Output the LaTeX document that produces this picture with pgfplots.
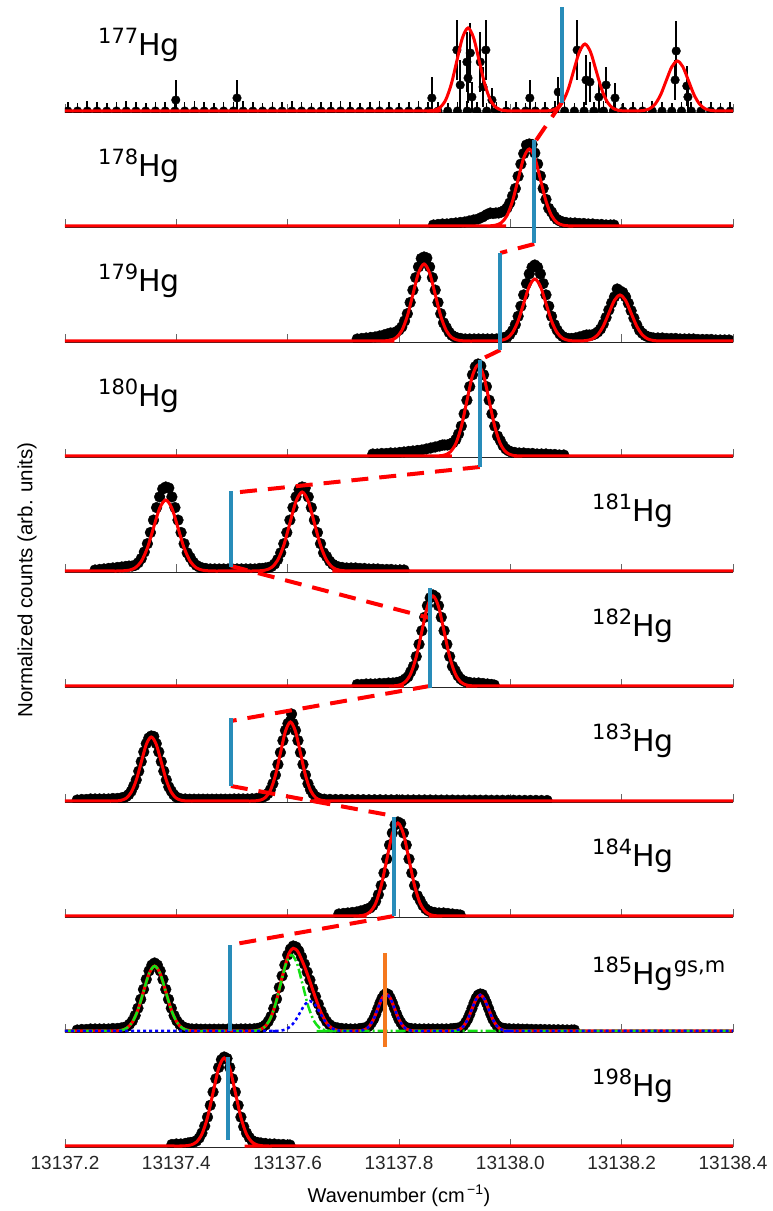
\documentclass[border=0pt]{standalone}
\usepackage{pgfplots}
\pgfplotsset{compat=1.18}
\usepackage{fontspec}
\setmainfont{Liberation Sans}
\newfontfamily\labelfont{DejaVu Sans}

\definecolor{centroid}{RGB}{40,140,185}
\definecolor{isomer}{RGB}{245,120,30}
\definecolor{gsgreen}{RGB}{20,225,20}
\definecolor{isoblue}{RGB}{0,0,255}

% Horizontal coordinate of every plot: wavenumber minus 13137 cm^-1
\pgfplotsset{
  panel/.style={
    anchor=south west, scale only axis,
    width=668pt, height=115pt,
    xmin=0.2, xmax=1.4, ymin=-0.015, ymax=1.135,
    axis x line*=bottom, axis y line=none, ytick=\empty,
    x axis line style={-, line width=1.2pt, black!85},
    xtick={0.2,0.4,0.6,0.8,1.0,1.2,1.4},
    xticklabels={},
    tick align=inside, major tick length=8pt,
    xtick style={line width=0.9pt, black!60},
    clip=true, clip marker paths=true,
  },
  dots/.style={only marks, mark=*, mark size=5.4pt, black},
  fitline/.style={red, line width=3pt, smooth, mark=none},
  link/.style={red, line width=4pt, dash pattern=on 17pt off 11pt},
  cline/.style={centroid, line width=4pt},
}

\newcommand{\nuc}[2]{{\labelfont\fontsize{21}{21}\selectfont\raisebox{12pt}{#1}}{\labelfont\fontsize{30}{30}\selectfont Hg}#2}

\begin{document}
\begin{tikzpicture}

% ---------------- 177Hg ----------------
\begin{axis}[panel, at={(0pt,1033.5pt)}]
\addplot[only marks, mark=*, mark size=4.3pt, black,
  error bars/.cd, y dir=both, y explicit, error mark=none,
  error bar style={line width=1.6pt, black}]
  table[x=x, y=y, y error=e] {
x y e
0.205 0 0.09
0.2225 0 0.08
0.240 0 0.10
0.2575 0 0.09
0.275 0 0.08
0.2925 0 0.09
0.310 0 0.10
0.3275 0 0.09
0.345 0 0.08
0.3625 0 0.09
0.380 0 0.09
0.3975 0 0.08
0.415 0 0.09
0.4325 0 0.10
0.450 0 0.09
0.4675 0 0.08
0.485 0 0.09
0.5025 0 0.09
0.520 0 0.10
0.5375 0 0.09
0.555 0 0.08
0.5725 0 0.09
0.590 0 0.09
0.6075 0 0.10
0.625 0 0.09
0.6425 0 0.08
0.660 0 0.09
0.6775 0 0.09
0.695 0 0.10
0.7125 0 0.09
0.730 0 0.08
0.7475 0 0.09
0.765 0 0.10
0.7825 0 0.09
0.800 0 0.08
0.8175 0 0.09
0.835 0 0.10
0.8525 0 0.09
0.870 0 0.09
0.8875 0 0.08
0.905 0 0.09
0.9225 0 0.10
0.940 0 0.09
0.9575 0 0.08
0.975 0 0.09
0.9925 0 0.10
1.010 0 0.09
1.0275 0 0.08
1.045 0 0.09
1.0625 0 0.09
1.080 0 0.10
1.0975 0 0.09
1.115 0 0.08
1.1325 0 0.09
1.150 0 0.09
1.1675 0 0.10
1.185 0 0.09
1.2025 0 0.08
1.220 0 0.09
1.2375 0 0.09
1.255 0 0.10
1.2725 0 0.09
1.290 0 0.08
1.3075 0 0.09
1.325 0 0.09
1.3425 0 0.10
1.360 0 0.09
1.3775 0 0.08
1.395 0 0.09
0.399 0.11 0.20
0.509 0.13 0.18
0.859 0.13 0.21
0.904 0.61 0.30
0.910 0.26 0.25
0.922 0.49 0.30
0.924 0.33 0.25
0.928 0.58 0.30
0.931 0.14 0.15
0.946 0.49 0.30
0.951 0.24 0.20
0.956 0.61 0.30
0.967 0.11 0.12
1.035 0.13 0.18
1.086 0.19 0.15
1.120 0.61 0.30
1.136 0.31 0.25
1.143 0.29 0.20
1.159 0.14 0.15
1.172 0.26 0.18
1.188 0.13 0.15
1.296 0.31 0.20
1.298 0.60 0.30
1.317 0.25 0.20
1.319 0.14 0.15
};
\addplot[fitline] coordinates {(0.2,0) (0.834,0) (0.844,0) (0.854,.002) (0.864,.009) (0.874,.036) (0.884,.112) (0.894,.270) (0.904,.503) (0.914,.732) (0.924,.830) (0.934,.732) (0.944,.503) (0.954,.270) (0.964,.112) (0.974,.036) (0.984,.009) (0.994,.002) (1.004,0) (1.014,0) (1.044,0) (1.054,0) (1.064,.001) (1.074,.007) (1.084,.029) (1.094,.091) (1.104,.218) (1.114,.406) (1.124,.591) (1.134,.670) (1.144,.591) (1.154,.406) (1.164,.218) (1.174,.091) (1.184,.029) (1.194,.007) (1.204,.001) (1.214,0) (1.222,0) (1.230,.001) (1.240,.006) (1.250,.022) (1.260,.068) (1.270,.162) (1.280,.303) (1.290,.441) (1.300,.500) (1.310,.441) (1.320,.303) (1.330,.162) (1.340,.068) (1.350,.022) (1.360,.006) (1.370,.001) (1.380,0) (1.390,0) (1.4,0)};
\end{axis}

% ---------------- 178Hg ----------------
\begin{axis}[panel, at={(0pt,918.5pt)}]
\addplot[dots] coordinates {(0.862,.010) (0.870,.015) (0.878,.020) (0.886,.020) (0.894,.025) (0.902,.030) (0.910,.035) (0.918,.040) (0.926,.050) (0.934,.060) (0.942,.070) (0.950,.090) (0.958,.115) (0.964,.130) (0.969,.125)
(0.974,.13) (0.979,.13) (0.984,.14) (0.989,.155) (0.994,.18) (0.999,.23) (1.004,.30) (1.009,.375) (1.014,.497) (1.019,.619) (1.024,.724) (1.029,.81) (1.034,.82) (1.039,.815) (1.044,.73) (1.049,.62) (1.054,.50) (1.059,.375) (1.064,.266) (1.069,.177) (1.074,.14) (1.079,.095) (1.084,.066) (1.089,.05) (1.094,.04) (1.100,.035) (1.108,.03) (1.116,.03) (1.124,.025) (1.132,.025) (1.140,.02) (1.148,.02) (1.156,.015) (1.164,.015) (1.172,.01) (1.180,.01) (1.186,.01)};
\addplot[fitline] coordinates {(0.2,0) (0.944,0) (0.954,0) (0.964,.002) (0.974,.009) (0.984,.034) (0.994,.104) (1.004,.250) (1.014,.467) (1.024,.680) (1.034,.770) (1.044,.680) (1.054,.467) (1.064,.250) (1.074,.104) (1.084,.034) (1.094,.009) (1.104,.002) (1.114,0) (1.124,0) (1.4,0)};
\end{axis}

% ---------------- 179Hg ----------------
\begin{axis}[panel, at={(0pt,803.5pt)}]
\addplot[dots] coordinates {(0.725,.020) (0.733,.025) (0.741,.030) (0.749,.035) (0.757,.040) (0.765,.050) (0.773,.060) (0.779,.070)
(0.785,.08) (0.790,.08) (0.795,.09) (0.800,.11) (0.805,.14) (0.810,.20) (0.815,.273) (0.820,.385) (0.825,.509) (0.830,.634) (0.835,.741) (0.840,.825) (0.845,.84) (0.850,.83) (0.855,.741) (0.860,.634) (0.865,.509) (0.870,.385) (0.875,.273) (0.880,.182) (0.885,.134) (0.890,.087) (0.895,.057) (0.900,.04) (0.905,.03)
(0.911,.025) (0.919,.02) (0.927,.02) (0.935,.02) (0.943,.02) (0.951,.02) (0.959,.02) (0.967,.02) (0.975,.02) (0.981,.025)
(0.984,.03) (0.989,.035) (0.994,.04) (0.999,.065) (1.004,.103) (1.009,.164) (1.014,.247) (1.019,.348) (1.024,.461) (1.029,.574) (1.034,.671) (1.039,.737) (1.044,.76) (1.049,.737) (1.054,.671) (1.059,.574) (1.064,.461) (1.069,.348) (1.074,.247) (1.079,.164) (1.084,.11) (1.089,.07) (1.094,.045) (1.099,.03) (1.104,.025)
(1.110,.025) (1.117,.03) (1.124,.04) (1.131,.05)
(1.137,.06) (1.142,.06) (1.147,.06) (1.152,.07) (1.157,.09) (1.162,.12) (1.167,.17) (1.172,.235) (1.177,.31) (1.182,.38) (1.187,.441) (1.192,.52) (1.197,.50) (1.202,.485) (1.207,.441) (1.212,.377) (1.217,.303) (1.222,.229) (1.227,.162) (1.232,.108) (1.237,.078) (1.242,.055) (1.247,.042) (1.252,.035) (1.257,.03)
(1.265,.03) (1.273,.03) (1.281,.025) (1.289,.025) (1.297,.025) (1.305,.02) (1.313,.02) (1.321,.02) (1.329,.02) (1.337,.015) (1.345,.015) (1.353,.015) (1.361,.015) (1.369,.01) (1.377,.01) (1.385,.01) (1.393,.01)};
\addplot[fitline] coordinates {(0.2,0) (0.755,0) (0.765,0) (0.775,.002) (0.785,.009) (0.795,.034) (0.805,.104) (0.815,.250) (0.825,.467) (0.835,.680) (0.845,.770) (0.855,.680) (0.865,.467) (0.875,.250) (0.885,.104) (0.895,.034) (0.905,.009) (0.915,.002) (0.925,0) (0.935,0) (0.954,0) (0.964,0) (0.974,.001) (0.984,.007) (0.994,.027) (1.004,.084) (1.014,.201) (1.024,.376) (1.034,.547) (1.044,.620) (1.054,.547) (1.064,.376) (1.074,.201) (1.084,.084) (1.094,.027) (1.104,.007) (1.114,.001) (1.1205,0) (1.127,.001) (1.137,.005) (1.147,.020) (1.157,.062) (1.167,.149) (1.177,.279) (1.187,.406) (1.197,.460) (1.207,.406) (1.217,.279) (1.227,.149) (1.237,.062) (1.247,.020) (1.257,.005) (1.267,.001) (1.277,0) (1.287,0) (1.4,0)};
\end{axis}

% ---------------- 180Hg ----------------
\begin{axis}[panel, at={(0pt,688.5pt)}]
\addplot[dots] coordinates {(0.753,.02) (0.761,.02) (0.769,.025) (0.777,.025) (0.785,.03) (0.793,.03) (0.801,.035) (0.809,.04) (0.817,.045) (0.825,.05) (0.833,.055) (0.841,.06) (0.849,.07) (0.857,.08) (0.865,.09) (0.873,.10) (0.878,.11)
(0.882,.11) (0.887,.11) (0.892,.12) (0.897,.133) (0.902,.164) (0.907,.22) (0.912,.299) (0.917,.421) (0.922,.558) (0.927,.694) (0.932,.812) (0.937,.892) (0.942,.92) (0.947,.90) (0.952,.812) (0.957,.694) (0.962,.558) (0.967,.421) (0.972,.299) (0.977,.199) (0.982,.154) (0.987,.103) (0.992,.07) (0.997,.051) (1.002,.04)
(1.008,.035) (1.016,.03) (1.024,.03) (1.032,.025) (1.040,.025) (1.048,.02) (1.056,.02) (1.064,.02) (1.072,.015) (1.080,.015) (1.088,.01) (1.096,.01)};
\addplot[fitline] coordinates {(0.2,0) (0.852,0) (0.862,0) (0.872,.002) (0.882,.010) (0.892,.040) (0.902,.123) (0.912,.295) (0.922,.552) (0.932,.803) (0.942,.910) (0.952,.803) (0.962,.552) (0.972,.295) (0.982,.123) (0.992,.040) (1.002,.010) (1.012,.002) (1.022,0) (1.032,0) (1.4,0)};
\end{axis}

% ---------------- 181Hg ----------------
\begin{axis}[panel, at={(0pt,573.5pt)}]
\addplot[dots] coordinates {(0.254,.01) (0.262,.015) (0.270,.02) (0.278,.025) (0.286,.03) (0.294,.035) (0.302,.04) (0.309,.045)
(0.315,.049) (0.3205,.049) (0.326,.057) (0.3315,.082) (0.337,.124) (0.3425,.19) (0.348,.273) (0.3535,.385) (0.359,.509) (0.3645,.634) (0.370,.741) (0.3755,.82) (0.381,.84) (0.3865,.83) (0.392,.741) (0.3975,.634) (0.403,.509) (0.4085,.385) (0.414,.273) (0.4195,.182) (0.425,.134) (0.4305,.087) (0.436,.057) (0.4415,.039) (0.447,.029)
(0.453,.025) (0.461,.02) (0.469,.02) (0.477,.02) (0.485,.02) (0.493,.02) (0.501,.02) (0.509,.02) (0.517,.02) (0.525,.02) (0.533,.02) (0.541,.02) (0.549,.025) (0.555,.025)
(0.560,.03) (0.5655,.035) (0.571,.045) (0.5765,.07) (0.582,.114) (0.5875,.182) (0.593,.273) (0.5985,.385) (0.604,.509) (0.6095,.634) (0.615,.741) (0.6205,.814) (0.626,.84) (0.6315,.83) (0.637,.741) (0.6425,.634) (0.648,.509) (0.6535,.385) (0.659,.273) (0.6645,.182) (0.670,.144) (0.6755,.097) (0.681,.067) (0.6865,.049) (0.692,.039)
(0.698,.035) (0.706,.03) (0.714,.03) (0.722,.03) (0.730,.025) (0.738,.025) (0.746,.02) (0.754,.02) (0.762,.02) (0.770,.015) (0.778,.015) (0.786,.015) (0.794,.01) (0.802,.01) (0.809,.01)};
\addplot[fitline] coordinates {(0.2,0) (0.282,0) (0.293,0) (0.304,.002) (0.315,.008) (0.326,.031) (0.337,.096) (0.348,.231) (0.359,.431) (0.370,.627) (0.381,.710) (0.392,.627) (0.403,.431) (0.414,.231) (0.425,.096) (0.436,.031) (0.447,.008) (0.458,.002) (0.469,0) (0.480,0) (0.527,0) (0.538,0) (0.549,.002) (0.560,.009) (0.571,.035) (0.582,.107) (0.593,.257) (0.604,.479) (0.615,.697) (0.626,.790) (0.637,.697) (0.648,.479) (0.659,.257) (0.670,.107) (0.681,.035) (0.692,.009) (0.703,.002) (0.714,0) (0.725,0) (1.4,0)};
\end{axis}

% ---------------- 182Hg ----------------
\begin{axis}[panel, at={(0pt,458.5pt)}]
\addplot[dots] coordinates {(0.725,.015) (0.733,.015) (0.741,.02) (0.749,.02) (0.757,.02) (0.765,.025) (0.773,.025) (0.781,.03) (0.789,.03) (0.796,.035)
(0.801,.04) (0.806,.05) (0.811,.07) (0.816,.092) (0.821,.143) (0.826,.197) (0.831,.295) (0.836,.417) (0.841,.552) (0.846,.687) (0.851,.803) (0.856,.882) (0.861,.91) (0.866,.89) (0.871,.803) (0.876,.687) (0.881,.552) (0.886,.417) (0.891,.295) (0.896,.197) (0.901,.153) (0.906,.102) (0.911,.07) (0.916,.051) (0.921,.04)
(0.927,.035) (0.935,.03) (0.943,.03) (0.951,.025) (0.959,.02) (0.966,.015) (0.971,.01)};
\addplot[fitline] coordinates {(0.2,0) (0.771,0) (0.781,0) (0.791,.002) (0.801,.010) (0.811,.040) (0.821,.122) (0.831,.292) (0.841,.546) (0.851,.794) (0.861,.900) (0.871,.794) (0.881,.546) (0.891,.292) (0.901,.122) (0.911,.040) (0.921,.010) (0.931,.002) (0.941,0) (0.951,0) (1.4,0)};
\end{axis}

% ---------------- 183Hg ----------------
\begin{axis}[panel, at={(0pt,343.5pt)}]
\addplot[dots] coordinates {(0.222,.01) (0.230,.015) (0.238,.015) (0.246,.02) (0.254,.02) (0.262,.02) (0.270,.02) (0.278,.02) (0.286,.025) (0.294,.025)
(0.301,.03) (0.3055,.035) (0.310,.045) (0.3145,.065) (0.319,.098) (0.3235,.151) (0.328,.211) (0.3325,.298) (0.337,.394) (0.3415,.491) (0.346,.574) (0.3505,.630) (0.355,.650) (0.3595,.645) (0.364,.574) (0.3685,.491) (0.373,.394) (0.3775,.298) (0.382,.211) (0.3865,.141) (0.391,.098) (0.3955,.062) (0.400,.039) (0.4045,.025) (0.409,.02)
(0.416,.02) (0.424,.018) (0.432,.018) (0.440,.018) (0.448,.018) (0.456,.018) (0.464,.018) (0.472,.018) (0.480,.018) (0.488,.018) (0.496,.018) (0.504,.02) (0.512,.02) (0.520,.02) (0.528,.02) (0.536,.022) (0.544,.025)
(0.551,.03) (0.5555,.04) (0.560,.05) (0.5645,.074) (0.569,.113) (0.5735,.173) (0.578,.260) (0.5825,.366) (0.587,.485) (0.5915,.604) (0.596,.706) (0.6005,.775) (0.605,.80) (0.6095,.775) (0.614,.706) (0.6185,.604) (0.623,.485) (0.6275,.366) (0.632,.260) (0.6365,.173) (0.641,.113) (0.6455,.074) (0.650,.045) (0.6545,.03) (0.659,.02)
(0.607,.87)
(0.666,.018) (0.676,.016) (0.686,.015) (0.696,.015) (0.706,.014) (0.716,.014) (0.726,.013) (0.736,.013) (0.746,.012) (0.756,.012) (0.766,.012) (0.776,.011) (0.786,.011) (0.796,.011) (0.806,.01) (0.816,.01) (0.826,.01) (0.836,.01) (0.846,.01) (0.856,.01) (0.866,.009) (0.876,.009) (0.886,.009) (0.896,.009) (0.906,.008) (0.916,.008) (0.926,.008) (0.936,.008) (0.946,.008) (0.956,.008) (0.966,.007) (0.976,.007) (0.986,.007) (0.996,.007) (1.006,.007) (1.016,.006) (1.026,.006) (1.036,.006) (1.046,.006) (1.056,.005) (1.066,.005)};
\addplot[fitline] coordinates {(0.2,0) (0.274,0) (0.283,0) (0.292,.001) (0.301,.007) (0.310,.028) (0.319,.087) (0.328,.208) (0.337,.388) (0.346,.565) (0.355,.640) (0.364,.565) (0.373,.388) (0.382,.208) (0.391,.087) (0.400,.028) (0.409,.007) (0.418,.001) (0.427,0) (0.436,0) (0.524,0) (0.533,0) (0.542,.002) (0.551,.009) (0.560,.035) (0.569,.107) (0.578,.257) (0.587,.479) (0.596,.697) (0.605,.790) (0.614,.697) (0.623,.479) (0.632,.257) (0.641,.107) (0.650,.035) (0.659,.009) (0.668,.002) (0.677,0) (0.686,0) (1.4,0)};
\end{axis}

% ---------------- 184Hg ----------------
\begin{axis}[panel, at={(0pt,228.5pt)}]
\addplot[dots] coordinates {(0.692,.02) (0.700,.025) (0.708,.03) (0.716,.035) (0.724,.04) (0.731,.05)
(0.738,.06) (0.743,.07) (0.748,.08) (0.753,.105) (0.758,.147) (0.763,.213) (0.768,.305) (0.773,.43) (0.778,.57) (0.783,.71) (0.788,.83) (0.793,.911) (0.798,.94) (0.803,.925) (0.808,.83) (0.813,.71) (0.818,.57) (0.823,.43) (0.828,.305) (0.833,.203) (0.838,.157) (0.843,.105) (0.848,.071) (0.853,.051) (0.858,.04)
(0.864,.035) (0.872,.03) (0.880,.03) (0.888,.025) (0.896,.02) (0.904,.015) (0.910,.01)};
\addplot[fitline] coordinates {(0.2,0) (0.708,0) (0.718,0) (0.728,.002) (0.738,.010) (0.748,.041) (0.758,.126) (0.768,.302) (0.778,.564) (0.788,.821) (0.798,.930) (0.808,.821) (0.818,.564) (0.828,.302) (0.838,.126) (0.848,.041) (0.858,.010) (0.868,.002) (0.878,0) (0.888,0) (1.4,0)};
\end{axis}

% ---------------- 185Hg (gs + m) ----------------
\begin{axis}[panel, at={(0pt,113.5pt)}]
\addplot[dots] coordinates {(0.222,.01) (0.230,.015) (0.238,.015) (0.246,.02) (0.254,.02) (0.262,.02) (0.270,.02) (0.278,.02) (0.286,.025) (0.294,.025)
(0.301,.03) (0.306,.035) (0.311,.045) (0.316,.068) (0.321,.101) (0.326,.155) (0.331,.228) (0.336,.317) (0.341,.416) (0.346,.516) (0.351,.601) (0.356,.659) (0.361,.68) (0.366,.659) (0.371,.601) (0.376,.516) (0.381,.416) (0.386,.317) (0.391,.228) (0.396,.155) (0.401,.101) (0.406,.068) (0.411,.045) (0.416,.03) (0.421,.025)
(0.428,.02) (0.436,.02) (0.444,.018) (0.452,.018) (0.460,.018) (0.468,.018) (0.476,.018) (0.484,.018) (0.492,.018) (0.500,.018) (0.508,.018) (0.516,.02) (0.524,.02) (0.532,.02) (0.540,.022) (0.546,.025)
(0.550,.03) (0.555,.04) (0.560,.06) (0.565,.095) (0.570,.145) (0.575,.225) (0.580,.32) (0.585,.435) (0.590,.55) (0.595,.66) (0.600,.76) (0.605,.82) (0.610,.85) (0.615,.84) (0.620,.80) (0.625,.74) (0.630,.67) (0.635,.59) (0.640,.51) (0.645,.425) (0.650,.345) (0.655,.27) (0.660,.20) (0.665,.14) (0.670,.095) (0.675,.065) (0.680,.045) (0.685,.035) (0.690,.03)
(0.697,.025) (0.705,.022) (0.713,.02) (0.721,.02) (0.728,.022)
(0.732,.025) (0.73575,.028) (0.7395,.03) (0.74325,.04) (0.747,.055) (0.75075,.085) (0.7545,.12) (0.75825,.169) (0.762,.224) (0.76575,.279) (0.7695,.327) (0.77325,.359) (0.777,.375) (0.78075,.365) (0.7845,.327) (0.78825,.279) (0.792,.224) (0.79575,.169) (0.7995,.12) (0.80325,.085) (0.807,.055) (0.81075,.04) (0.8145,.03) (0.81825,.026) (0.822,.024)
(0.829,.022) (0.837,.02) (0.845,.02) (0.853,.02) (0.861,.02) (0.869,.02) (0.877,.02) (0.885,.02) (0.893,.022) (0.898,.024)
(0.901,.025) (0.90475,.028) (0.9085,.03) (0.91225,.04) (0.916,.055) (0.91975,.085) (0.9235,.12) (0.92725,.169) (0.931,.224) (0.93475,.279) (0.9385,.327) (0.94225,.359) (0.946,.37) (0.94975,.365) (0.9535,.327) (0.95725,.279) (0.961,.224) (0.96475,.169) (0.9685,.12) (0.97225,.085) (0.976,.055) (0.97975,.04) (0.9835,.03) (0.98725,.026) (0.991,.024)
(0.998,.022) (1.006,.02) (1.014,.02) (1.022,.018) (1.030,.018) (1.038,.016) (1.046,.015) (1.054,.015) (1.062,.014) (1.070,.013) (1.078,.012) (1.086,.012) (1.094,.011) (1.102,.01) (1.110,.01) (1.115,.01)};
% total fit
\addplot[fitline] coordinates {(0.2,0) (0.271,0) (0.281,0) (0.291,.001) (0.301,.007) (0.311,.029) (0.321,.088) (0.331,.211) (0.341,.394) (0.351,.574) (0.361,.650) (0.371,.574) (0.381,.394) (0.391,.211) (0.401,.088) (0.411,.029) (0.421,.007) (0.431,.001) (0.441,0) (0.451,0) (0.520,0) (0.530,0) (0.540,.003) (0.550,.013) (0.560,.048) (0.570,.137) (0.580,.307) (0.590,.536) (0.600,.740) (0.605,.801) (0.610,.827) (0.615,.816) (0.620,.777) (0.630,.649) (0.640,.495) (0.650,.332) (0.660,.185) (0.670,.080) (0.680,.026) (0.690,.006) (0.700,.001) (0.710,0) (0.717,0) (0.7245,.001) (0.732,.004) (0.7395,.016) (0.747,.050) (0.7545,.120) (0.762,.224) (0.7695,.327) (0.777,.370) (0.7845,.327) (0.792,.224) (0.7995,.120) (0.807,.050) (0.8145,.016) (0.822,.004) (0.8295,.001) (0.837,0) (0.8445,0) (0.8785,0) (0.886,0) (0.8935,.001) (0.901,.004) (0.9085,.016) (0.916,.049) (0.9235,.117) (0.931,.218) (0.9385,.318) (0.946,.360) (0.9535,.318) (0.961,.218) (0.9685,.117) (0.976,.049) (0.9835,.016) (0.991,.004) (0.9985,.001) (1.006,0) (1.0135,0) (1.4,0)};
% ground-state component
\addplot[gsgreen, line width=2.5pt, smooth, mark=none, dash pattern=on 10pt off 3pt on 2pt off 3pt] coordinates {(0.2,0) (0.271,0) (0.281,0) (0.291,.001) (0.301,.007) (0.311,.029) (0.321,.088) (0.331,.211) (0.341,.394) (0.351,.574) (0.361,.650) (0.371,.574) (0.381,.394) (0.391,.211) (0.401,.088) (0.411,.029) (0.421,.007) (0.431,.001) (0.441,0) (0.451,0) (0.517,0) (0.527,0) (0.537,.002) (0.547,.008) (0.557,.033) (0.567,.103) (0.577,.247) (0.587,.461) (0.597,.671) (0.607,.760) (0.617,.671) (0.627,.461) (0.637,.247) (0.647,.103) (0.657,.033) (0.667,.008) (0.677,.002) (0.687,0) (0.697,0) (1.4,0)};
% isomer component
\addplot[isoblue, line width=2.5pt, smooth, mark=none, dash pattern=on 3pt off 3pt] coordinates {(0.2,0) (0.559,0) (0.568,0) (0.577,.001) (0.586,.003) (0.595,.013) (0.604,.041) (0.613,.097) (0.622,.182) (0.631,.265) (0.640,.300) (0.649,.265) (0.658,.182) (0.667,.097) (0.676,.041) (0.685,.013) (0.694,.003) (0.703,.001) (0.712,0) (0.717,0) (0.7245,.001) (0.732,.004) (0.7395,.016) (0.747,.050) (0.7545,.120) (0.762,.224) (0.7695,.327) (0.777,.370) (0.7845,.327) (0.792,.224) (0.7995,.120) (0.807,.050) (0.8145,.016) (0.822,.004) (0.8295,.001) (0.837,0) (0.8445,0) (0.8785,0) (0.886,0) (0.8935,.001) (0.901,.004) (0.9085,.016) (0.916,.049) (0.9235,.117) (0.931,.218) (0.9385,.318) (0.946,.360) (0.9535,.318) (0.961,.218) (0.9685,.117) (0.976,.049) (0.9835,.016) (0.991,.004) (0.9985,.001) (1.006,0) (1.0135,0) (1.4,0)};
\end{axis}

% ---------------- 198Hg ----------------
\begin{axis}[panel, at={(0pt,-1.5pt)},
  xticklabels={13137.2,13137.4,13137.6,13137.8,13138.0,13138.2,13138.4},
  xticklabel style={font=\fontsize{19}{19}\selectfont, text=black!85, yshift=-5pt}]
\addplot[dots] coordinates {(0.392,.015) (0.400,.02) (0.408,.02) (0.416,.025) (0.421,.03)
(0.426,.035) (0.431,.04) (0.436,.05) (0.441,.08) (0.446,.13) (0.451,.2) (0.456,.289) (0.461,.407) (0.466,.54) (0.471,.672) (0.476,.785) (0.481,.863) (0.486,.89) (0.491,.875) (0.496,.785) (0.501,.672) (0.506,.54) (0.511,.407) (0.516,.289) (0.521,.193) (0.526,.13) (0.531,.085) (0.536,.055) (0.541,.04) (0.546,.035)
(0.552,.03) (0.560,.025) (0.568,.02) (0.576,.02) (0.584,.015) (0.592,.015) (0.600,.01) (0.604,.01)};
\addplot[fitline] coordinates {(0.2,0) (0.396,0) (0.406,0) (0.416,.002) (0.426,.010) (0.436,.039) (0.446,.119) (0.456,.286) (0.466,.534) (0.476,.777) (0.486,.880) (0.496,.777) (0.506,.534) (0.516,.286) (0.526,.119) (0.536,.039) (0.546,.010) (0.556,.002) (0.566,0) (0.576,0) (1.4,0)};
\end{axis}

% ------- centroids and their links across the isotope chain -------
\begin{axis}[anchor=south west, at={(0pt,0pt)}, scale only axis,
  width=668pt, height=1146pt, xmin=0.2, xmax=1.4, ymin=0, ymax=1146,
  hide axis, clip=false]
\addplot[link] coordinates {(1.092,1043) (1.043,1003)};
\addplot[link] coordinates {(1.043,902) (0.982,893)};
\addplot[link] coordinates {(0.982,796) (0.945,786)};
\addplot[link] coordinates {(0.945,679) (0.498,653)};
\addplot[link] coordinates {(0.498,580) (0.855,528)};
\addplot[link] coordinates {(0.855,460) (0.498,425)};
\addplot[link] coordinates {(0.498,360) (0.791,330)};
\addplot[link] coordinates {(0.791,230) (0.496,201)};
\addplot[cline] coordinates {(1.092,1043) (1.092,1139)};
\addplot[cline] coordinates {(1.043,903) (1.043,1006)};
\addplot[cline] coordinates {(0.982,796) (0.982,893)};
\addplot[cline] coordinates {(0.945,679) (0.945,786)};
\addplot[cline] coordinates {(0.498,579) (0.498,655)};
\addplot[cline] coordinates {(0.855,458) (0.855,558)};
\addplot[cline] coordinates {(0.498,360) (0.498,428)};
\addplot[cline] coordinates {(0.791,230) (0.791,329)};
\addplot[cline] coordinates {(0.496,115) (0.496,201)};
\addplot[cline] coordinates {(0.493,6) (0.493,89)};
\addplot[isomer, line width=4pt] coordinates {(0.775,99) (0.775,193)};
\end{axis}

% isotope labels
\node[anchor=base west, inner sep=0pt] at (33pt,1090pt) {\nuc{177}{}};
\node[anchor=base west, inner sep=0pt] at (33pt,969pt) {\nuc{178}{}};
\node[anchor=base west, inner sep=0pt] at (33pt,854pt) {\nuc{179}{}};
\node[anchor=base west, inner sep=0pt] at (33pt,739pt) {\nuc{180}{}};
\node[anchor=base west, inner sep=0pt] at (527pt,624pt) {\nuc{181}{}};
\node[anchor=base west, inner sep=0pt] at (527pt,509pt) {\nuc{182}{}};
\node[anchor=base west, inner sep=0pt] at (527pt,394pt) {\nuc{183}{}};
\node[anchor=base west, inner sep=0pt] at (527pt,279pt) {\nuc{184}{}};
\node[anchor=base west, inner sep=0pt] at (527pt,161pt) {\nuc{185}{{\labelfont\fontsize{21}{21}\selectfont\raisebox{12pt}{gs,m}}}};
\node[anchor=base west, inner sep=0pt] at (527pt,49pt) {\nuc{198}{}};

% axis titles
\node[rotate=90, font=\fontsize{20.5}{20.5}\selectfont] at (-38pt,566pt) {Normalized counts (arb. units)};
\node[font=\fontsize{20}{20}\selectfont] at (334pt,-50pt) {Wavenumber (cm\textsuperscript{\,−1})};

\pgfresetboundingbox
\useasboundingbox (-65pt,-65pt) rectangle (708pt,1146pt);
\end{tikzpicture}
\end{document}
